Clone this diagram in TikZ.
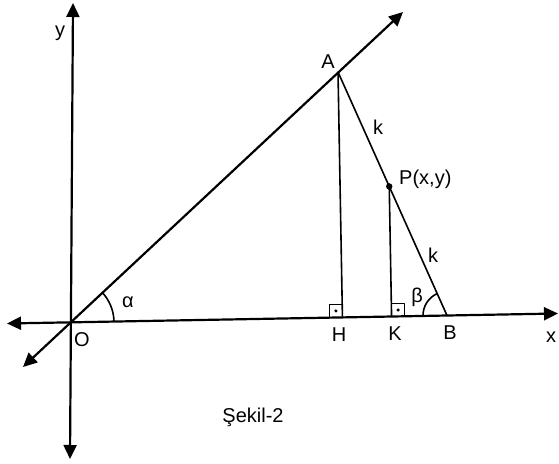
\documentclass[tikz,border=0pt]{standalone}
\usepackage{fontspec}
\setmainfont{Liberation Sans}
\usetikzlibrary{arrows.meta,calc}
\begin{document}
\begin{tikzpicture}[x=1pt,y=1pt,line join=round,>={Triangle[length=14pt,width=13pt]},every node/.style={inner sep=1pt,font=\fontsize{20}{24}\selectfont},axis/.style={line width=2.2pt},seg/.style={line width=1.6pt}]
  \useasboundingbox (0,0) rectangle (559,463);
  \coordinate (Xl) at (7,139.5);
  \coordinate (Xr) at (558,149.5);
  \coordinate (Yb) at (70,4);
  \coordinate (Yt) at (73,460);
  \coordinate (Dl) at (23,96);
  \coordinate (Dr) at (403,451);
  \coordinate (O) at (70,140.6);
  \coordinate (A) at (338,391);
  \coordinate (B) at (447,147.5);
  \coordinate (P) at ($(A)!0.47!(B)$);
  \coordinate (H) at ($(Xl)!(A)!(Xr)$);
  \coordinate (K) at ($(Xl)!(P)!(Xr)$);
  \draw[axis,<->] (Xl) -- (Xr);
  \draw[axis,<->] (Yb) -- (Yt);
  \draw[axis,<->] (Dl) -- (Dr);
  \draw[seg] (A) -- (H);
  \draw[seg] (P) -- (K);
  \draw[seg] (A) -- (B);
  \fill (P) circle[radius=3.2];
  \draw[seg] ($(O)+(1:44)$) arc[start angle=1,end angle=43,radius=44];
  \draw[seg] ($(B)+(181:24)$) arc[start angle=181,end angle=114,radius=24];
  \draw[line width=1.4pt] (H) rectangle ($(H)+(-13,13)$);
  \fill ($(H)+(-6.5,6.5)$) circle[radius=1.7];
  \draw[line width=1.4pt] (K) rectangle ($(K)+(13,13)$);
  \fill ($(K)+(6.5,6.5)$) circle[radius=1.7];
  \node (ly) at (60,430) {y};
  \node (lx) at (551,126) {x};
  \node (lO) at (82,123) {O};
  \node (lA) at (328,401) {A};
  \node (lB) at (450,130) {B};
  \node (lH) at (339,128) {H};
  \node (lK) at (395,129) {K};
  \node[anchor=west] (lP) at (398,284) {P(x,y)};
  \node (lk1) at (378,336) {k};
  \node (lk2) at (433,208) {k};
  \node (lal) at (128,161) {α};
  \node (lbe) at (417,166) {β};
  \node (cap) at (253,46) {Şekil-2};
\end{tikzpicture}
\end{document}
